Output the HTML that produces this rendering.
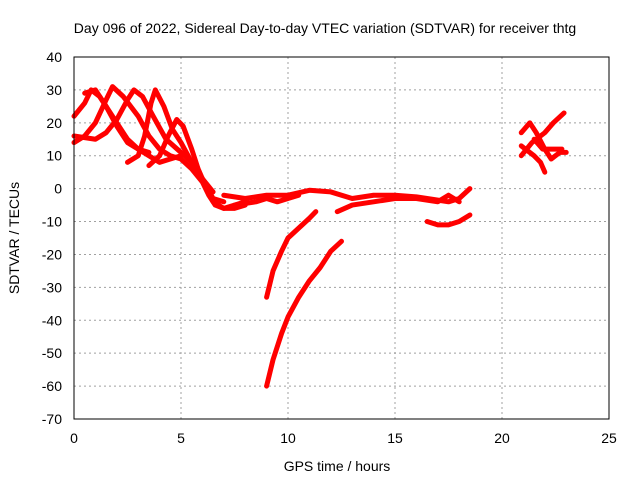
<!DOCTYPE html>
<html><head><meta charset="utf-8"><style>
body{margin:0;background:#fff}
svg{font-family:"Liberation Sans",sans-serif}
</style></head><body>
<svg id="c" width="640" height="480" xmlns="http://www.w3.org/2000/svg">
<rect width="640" height="480" fill="#fff"/>
<text x="325" y="33" text-anchor="middle" font-size="14">Day 096 of 2022, Sidereal Day-to-day VTEC variation (SDTVAR) for receiver thtg</text>
<text x="337" y="471" text-anchor="middle" font-size="14">GPS time / hours</text>
<text transform="translate(19,238) rotate(-90)" text-anchor="middle" font-size="14">SDTVAR / TECUs</text>
<g id="grid"></g><g id="ticks"></g><g id="series"></g>
<rect x="74" y="57" width="535" height="362" fill="none" stroke="#000" stroke-width="1"/>
</svg>
<script>
const xTicks=[0,5,10,15,20,25];
const yTicks=[40,30,20,10,0,-10,-20,-30,-40,-50,-60,-70];
const track1=[[0,14],[0.5,16],[1,20],[1.5,27],[1.8,31],[2.3,28],[3,22],[3.5,16],[4,12],[4.5,10],[5,9],[5.5,6],[6,2],[6.3,-2],[6.6,-5],[7,-6],[7.5,-5],[8,-4]];
const track2=[[0,22],[0.5,26],[0.8,30],[1.2,28],[2,20],[2.5,15],[3,12],[3.5,10],[4,8],[4.5,9],[5,10]];
const track3=[[0,16],[1,15],[1.5,17],[2,21],[2.5,27],[2.8,30],[3.2,28],[3.7,22],[4.3,15],[5,11],[5.5,8],[6,3],[6.5,-1]];
const track4=[[2.5,8],[3,10],[3.3,16],[3.6,26],[3.8,30],[4.2,25],[4.6,18],[5,14],[5.5,8],[6,3],[6.5,-3],[7,-4]];
const track5=[[3.5,7],[4,10],[4.4,16],[4.8,21],[5.1,19],[5.5,12],[5.8,6],[6.2,0],[6.5,-4],[7,-6],[7.5,-6],[8,-5]];
const track6=[[0.5,29],[1,30],[1.5,25],[2,19],[2.5,14],[3,12],[3.5,11]];
const track7=[[7,-2],[8,-3],[9,-2],[10,-2],[11,-0.5],[12,-1],[13,-3],[14,-2],[15,-2],[16,-2.5],[17,-3.5],[17.5,-4],[18,-3],[18.5,0]];
const track8=[[7.5,-5],[8.5,-4],[9,-3],[9.5,-4],[10,-3],[10.5,-2]];
const track9=[[12.3,-7],[13,-5],[14,-4],[15,-3],[16,-3],[17,-4],[17.5,-2],[18,-4]];
const track10=[[16.5,-10],[17,-11],[17.5,-11],[18,-10],[18.5,-8]];
const track11=[[9,-33],[9.3,-25],[9.7,-19],[10,-15],[10.5,-12],[11,-9],[11.3,-7]];
const track12=[[9,-60],[9.3,-52],[9.7,-44],[10,-39],[10.5,-33],[11,-28],[11.5,-24],[12,-19],[12.5,-16]];
const track13=[[20.9,17],[21.3,20],[21.6,17],[22,12],[22.3,9],[22.7,11],[23,11]];
const track14=[[20.9,10],[21.4,14],[22,17],[22.4,20],[22.9,23]];
const track15=[[20.9,13],[21.5,10],[21.8,8],[22,5]];
const track16=[[21.5,15],[21.9,12],[22.3,12],[22.8,12]];
const tracks=[track1,track2,track3,track4,track5,track6,track7,track8,track9,track10,track11,track12,track13,track14,track15,track16];
const X=v=>74+v/25*535, Y=v=>57+(40-v)/110*362;
const NS="http://www.w3.org/2000/svg";
const g=document.getElementById('grid'),t=document.getElementById('ticks'),s=document.getElementById('series');
function mk(tag,a,p){const e=document.createElementNS(NS,tag);for(const k in a)e.setAttribute(k,a[k]);p.appendChild(e);return e;}
xTicks.forEach(v=>{
 if(v>0&&v<25){const l=mk('line',{x1:X(v),x2:X(v),y1:57,y2:419,stroke:'#a0a0a0','stroke-dasharray':'2,3'},g);
 
 }
 const tx=mk('text',{x:X(v),y:443,'text-anchor':'middle','font-size':14},t);tx.textContent=v;
 
 
});
yTicks.forEach(v=>{
 if(v<40&&v>-70){const l=mk('line',{x1:74,x2:609,y1:Y(v),y2:Y(v),stroke:'#a0a0a0','stroke-dasharray':'2,3'},g);
 
 }
 const tx=mk('text',{x:62,y:Y(v)+5,'text-anchor':'end','font-size':14},t);tx.textContent=v;
 
 
});
tracks.forEach((tr,i)=>{
 const p=mk('polyline',{points:tr.map(d=>X(d[0])+','+Y(d[1])).join(' '),fill:'none',stroke:'#ff0000','stroke-width':5,'stroke-linejoin':'round','stroke-linecap':'round'},s);
 
 
});
</script>
</body></html>
